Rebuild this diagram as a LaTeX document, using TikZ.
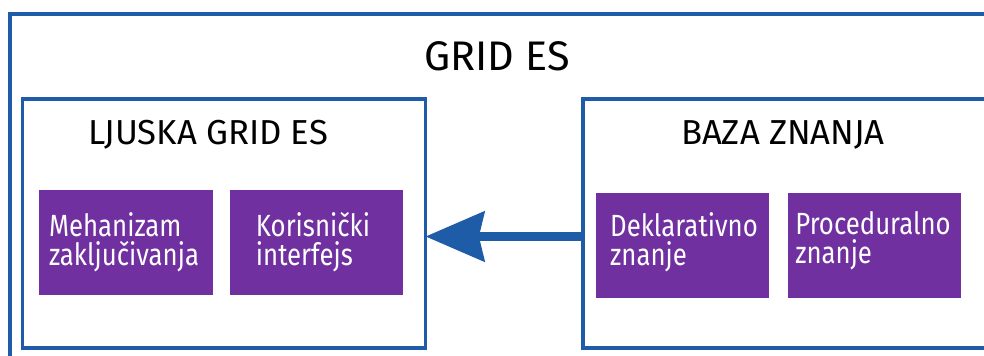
\documentclass[tikz,border=0pt]{standalone}
\usepackage{fontspec}
\setmainfont{Fira Sans}
\newfontfamily\boxfont[FakeStretch=0.84]{Fira Sans}
\usetikzlibrary{arrows.meta}
\definecolor{frameblue}{HTML}{1F5CA8}
\definecolor{boxpurple}{HTML}{7030A0}
\tikzset{
  frame/.style={draw=frameblue, line width=2.6pt},
  inner frame/.style={draw=frameblue, line width=2.3pt},
  pbox/.style={draw=none, inner sep=0pt, text=white, font=\boxfont\fontsize{23}{22}\selectfont, align=left},
  title/.style={font=\fontsize{31}{34}\selectfont, text=black, inner sep=0pt},
  subtitle/.style={font=\fontsize{26}{30}\selectfont, text=black, inner sep=0pt},
  flow/.style={draw=frameblue, line width=6.75pt, -{Stealth[length=44pt, width=37pt, inset=4pt]}},
}
\begin{document}
\begin{tikzpicture}[x=0.75pt, y=-0.75pt]
\useasboundingbox (0,0) rectangle (984,356);
\begin{scope}
\clip (0,0) rectangle (984,356);
\draw[frame] (10,14) rectangle (1000,380);
\draw[inner frame] (22.5,99) rectangle (425.5,348);
\draw[inner frame] (583,99) rectangle (1000,348);
\end{scope}
\coordinate (lbR) at (425.5,236.5);
\coordinate (rbL) at (583,236.5);
\node[title] (t) at (497,56) {GRID ES};
\node[subtitle] (lt) at (208,135) {LJUSKA GRID ES};
\node[subtitle] (rt) at (783,135) {BAZA ZNANJA};
\fill[boxpurple] (39,190) rectangle (213,295);
\fill[boxpurple] (230,190) rectangle (403,295);
\fill[boxpurple] (596,193) rectangle (769,298);
\fill[boxpurple] (788,193) rectangle (961,298);
\node[pbox] (m) at (124,242) {Mehanizam\\zaključivanja};
\node[pbox] (k) at (313,242) {Korisnički\\interfejs};
\node[pbox] (d) at (684,242) {Deklarativno\\znanje};
\node[pbox] (p) at (873,241) {Proceduralno\\znanje};
\draw[flow] (rbL) -- (lbR);
\end{tikzpicture}
\end{document}
